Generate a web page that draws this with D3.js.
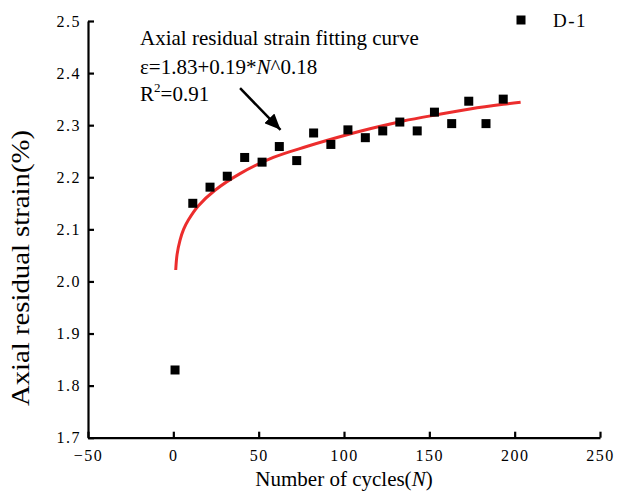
<!DOCTYPE html>
<html>
<head>
<meta charset="utf-8">
<script src="https://cdn.jsdelivr.net/npm/d3@7"></script>
<style>
  html, body { margin: 0; padding: 0; background: #fff; }
  svg { display: block; }
</style>
</head>
<body>
<svg id="chart" width="628" height="496"></svg>
<script>
// ---- data ----
const cycles = [1, 11.4, 21.5, 31.6, 41.8, 52, 62.1, 72.3, 82.2, 92.3, 102.3, 112.5, 122.7, 132.7, 142.9, 153, 163.1, 173.1, 183.2, 193.3];
const strain = [1.830, 2.150, 2.181, 2.202, 2.238, 2.229, 2.259, 2.232, 2.285, 2.263, 2.291, 2.276, 2.289, 2.306, 2.289, 2.325, 2.303, 2.346, 2.303, 2.350];
const fitCycles = [1.4, 2.2, 3.9, 6.0, 8.8, 14.6, 24.4, 39.1, 58.6, 78.1, 102.3, 115.2, 134.7, 154.3, 173.8, 193.3, 203.5];
const fitStrain = [2.022, 2.052, 2.079, 2.100, 2.118, 2.145, 2.175, 2.207, 2.238, 2.259, 2.282, 2.293, 2.308, 2.320, 2.331, 2.340, 2.344];
const xTicks = [-50, 0, 50, 100, 150, 200, 250];
const yTicks = [1.7, 1.8, 1.9, 2.0, 2.1, 2.2, 2.3, 2.4, 2.5];
const seriesName = "D-1";
const annotTitle = "Axial residual strain fitting curve";
const xTitle = "Number of cycles(";
const yTitle = "Axial residual strain(%)";
// annotation anchor points in data units
const annotText = [-19.5, 2.454];
const arrowFrom = [39.1, 2.371];
const arrowTo = [62.8, 2.291];

// ---- layout ----
const svg = d3.select("#chart");
const x = d3.scaleLinear().domain([-50, 250]).range([88, 600]);
const y = d3.scaleLinear().domain([1.7, 2.5]).range([437.7, 21]);
const serif = "'Liberation Serif', 'Times New Roman', serif";

// axes
const xAxis = d3.axisBottom(x).tickValues(xTicks).tickSizeInner(-6).tickSizeOuter(0).tickPadding(12)
  .tickFormat(d3.format("d"));
const yAxis = d3.axisLeft(y).tickValues(yTicks).tickSizeInner(-6).tickSizeOuter(0).tickPadding(7)
  .tickFormat(d3.format(".1f"));

const gx = svg.append("g").attr("transform", `translate(0,${y(1.7)})`).call(xAxis);
const gy = svg.append("g").attr("transform", `translate(${x(-50)},0)`).call(yAxis);
[gx, gy].forEach(g => {
  g.select(".domain").attr("stroke", "#000").attr("stroke-width", 2.2);
  g.selectAll(".tick line").attr("stroke", "#000").attr("stroke-width", 2.2);
  g.selectAll(".tick text").attr("fill", "#000")
    .style("font-family", serif).style("font-size", "16px").style("letter-spacing", "1.5px");
});

// fit curve
const line = d3.line().x(d => x(d[0])).y(d => y(d[1])).curve(d3.curveCatmullRom.alpha(0.5));
svg.append("path")
  .datum(fitCycles.map((c, i) => [c, fitStrain[i]]))
  .attr("d", line)
  .attr("fill", "none")
  .attr("stroke", "#ec2d2d")
  .attr("stroke-width", 3);

// points
const ms = 9;
svg.append("g").selectAll("rect")
  .data(cycles.map((c, i) => [c, strain[i]]))
  .join("rect")
  .attr("x", d => x(d[0]) - ms / 2)
  .attr("y", d => y(d[1]) - ms / 2)
  .attr("width", ms).attr("height", ms)
  .attr("fill", "#000");

// legend
svg.append("rect").attr("x", 516.5).attr("y", 15.5).attr("width", ms).attr("height", ms).attr("fill", "#000");
svg.append("text").attr("x", 553).attr("y", 27).text(seriesName)
  .style("font-family", serif).style("font-size", "19px").style("letter-spacing", "1.5px");

// annotation text
const ax = x(annotText[0]), ay = y(annotText[1]);
const t = svg.append("g").style("font-family", serif).style("font-size", "21px").attr("fill", "#000");
t.append("text").attr("x", ax).attr("y", ay).text(annotTitle);
const t2 = t.append("text").attr("x", ax).attr("y", ay + 28.7);
t2.append("tspan").text("\u03b5=1.83+0.19*");
t2.append("tspan").style("font-style", "italic").text("N");
t2.append("tspan").text("^0.18");
const t3 = t.append("text").attr("x", ax).attr("y", ay + 56.5);
t3.append("tspan").text("R");
t3.append("tspan").attr("dy", -9).style("font-size", "13px").text("2");
t3.append("tspan").attr("dy", 9).text("=0.91");

// arrow
const defs = svg.append("defs");
defs.append("marker").attr("id", "ah")
  .attr("markerUnits", "userSpaceOnUse")
  .attr("markerWidth", 18).attr("markerHeight", 14)
  .attr("refX", 16).attr("refY", 7)
  .attr("orient", "auto")
  .append("path").attr("d", "M0,0 L16,7 L0,14 Z").attr("fill", "#000");
svg.append("line")
  .attr("x1", x(arrowFrom[0])).attr("y1", y(arrowFrom[1]))
  .attr("x2", x(arrowTo[0])).attr("y2", y(arrowTo[1]))
  .attr("stroke", "#000").attr("stroke-width", 2.5)
  .attr("marker-end", "url(#ah)");

// axis titles
const xt = svg.append("text").attr("x", x(100)).attr("y", 486).attr("text-anchor", "middle")
  .style("font-family", serif).style("font-size", "21px");
xt.append("tspan").text(xTitle);
xt.append("tspan").style("font-style", "italic").text("N");
xt.append("tspan").text(")");

svg.append("text")
  .attr("transform", `translate(29,268) rotate(-90)`)
  .attr("text-anchor", "middle")
  .style("font-family", serif).style("font-size", "25px")
  .attr("textLength", 276).attr("lengthAdjust", "spacingAndGlyphs")
  .text(yTitle);
</script>
</body>
</html>
